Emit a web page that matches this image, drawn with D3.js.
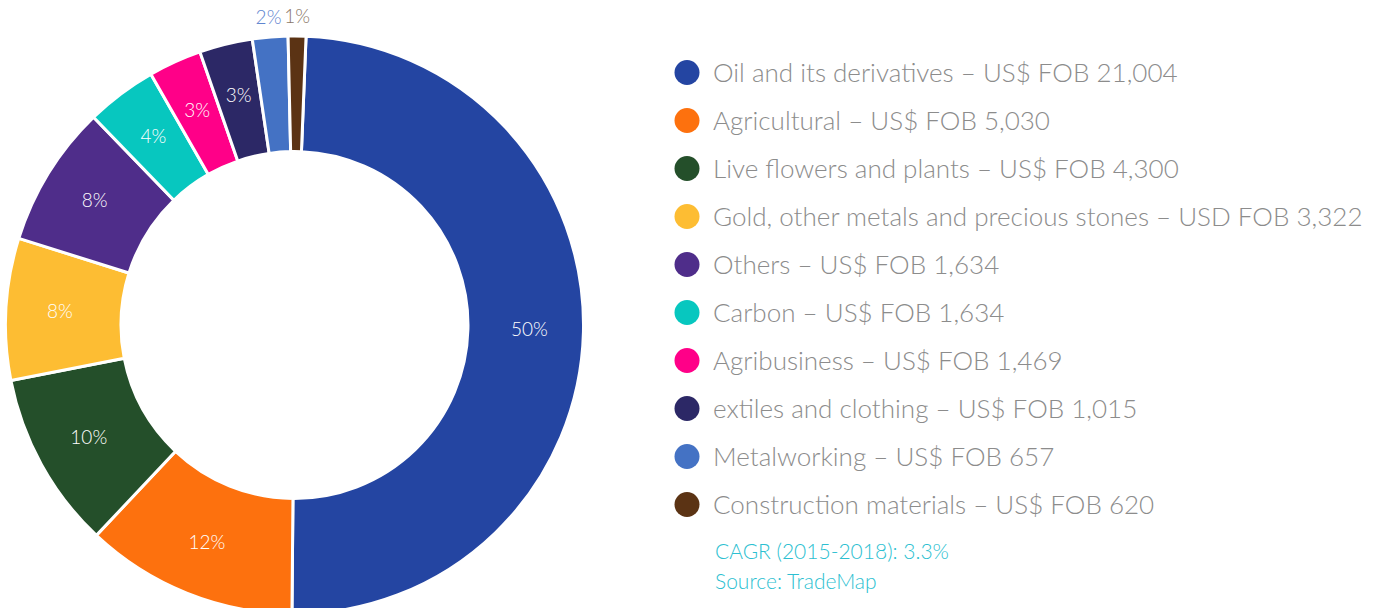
<!DOCTYPE html>
<html>
<head>
<meta charset="utf-8">
<script src="https://cdn.jsdelivr.net/npm/d3@7"></script>
<style>
  html, body { margin: 0; padding: 0; background: #ffffff; }
  svg { display: block; font-family: "Lato", "Open Sans", sans-serif; }
</style>
</head>
<body>
<svg id="chart" width="1383" height="608"></svg>
<script>
// Export categories, shares shown on the ring, and legend amounts
const categories = [
  "Oil and its derivatives",
  "Agricultural",
  "Live flowers and plants",
  "Gold, other metals and precious stones",
  "Others",
  "Carbon",
  "Agribusiness",
  "extiles and clothing",
  "Metalworking",
  "Construction materials"
];
const shares = [50, 12, 10, 8, 8, 4, 3, 3, 2, 1];
const fobValues = ["21,004", "5,030", "4,300", "3,322", "1,634", "1,634", "1,469", "1,015", "657", "620"];
const currencyLabels = ["US$", "US$", "US$", "USD", "US$", "US$", "US$", "US$", "US$", "US$"];
const colors = ["#2445a2", "#fd710e", "#244f2a", "#fdbd33", "#4f2d8a", "#07c7bf", "#ff0088", "#2c2866", "#4472c4", "#5b3314"];
const outsideLabelColors = { 8: "#5f85cf", 9: "#8a7767" };
const notes = ["CAGR (2015-2018): 3.3%", "Source: TradeMap"];

const svg = d3.select("#chart");
const cx = 294.5, cy = 325, outerR = 289, innerR = 173.5;
const startAngle = 0.04;

const data = categories.map((c, i) => ({ name: c, share: shares[i], color: colors[i], i }));

const pie = d3.pie().value(d => d.share).sort(null)
  .startAngle(startAngle).endAngle(startAngle + 2 * Math.PI);
const arc = d3.arc().innerRadius(innerR).outerRadius(outerR);
const labelArc = d3.arc().innerRadius(235).outerRadius(235);
const outerLabelArc = d3.arc().innerRadius(308).outerRadius(308);

const g = svg.append("g").attr("transform", `translate(${cx},${cy})`);
const arcs = pie(data);

g.selectAll("path.slice").data(arcs).enter().append("path")
  .attr("class", "slice")
  .attr("d", arc)
  .attr("fill", d => d.data.color)
  .attr("stroke", "#ffffff")
  .attr("stroke-width", 3);

// Percent labels: inside the ring, except the two thinnest slices which sit above it
g.selectAll("text.pct").data(arcs).enter().append("text")
  .attr("class", "pct")
  .attr("transform", d => {
    const p = (d.data.i >= 8 ? outerLabelArc : labelArc).centroid(d);
    return `translate(${p[0]},${p[1]})`;
  })
  .attr("text-anchor", "middle")
  .attr("dy", "0.3em")
  .attr("font-size", 19)
  .attr("font-weight", 300)
  .attr("fill", d => outsideLabelColors[d.data.i] || "#ffffff")
  .text(d => d.data.share + "%");

// Legend
const legendX = 687, legendY0 = 72.5, legendStep = 48;
const legend = svg.append("g");
const rows = legend.selectAll("g.row").data(data).enter().append("g")
  .attr("class", "row")
  .attr("transform", (d, i) => `translate(${legendX},${legendY0 + i * legendStep})`);
rows.append("circle").attr("r", 12.5).attr("fill", d => d.color);
const legendText = rows.append("text")
  .attr("x", 26)
  .attr("y", 9.5)
  .attr("font-size", 26)
  .attr("font-weight", 300)
  .attr("fill", "#8c8c8c")
  .text((d, i) => `${d.name} \u2013 ${currencyLabels[i]} FOB ${fobValues[i]}`);

// Fit legend type so the longest entry spans the legend column
const longest = legendText.filter((d, i) => i === 3).node();
const w = longest.getComputedTextLength();
const fs = 26 * 650 / w;
legendText.attr("font-size", fs);

svg.selectAll("text.note").data(notes).enter().append("text")
  .attr("class", "note")
  .attr("x", 715)
  .attr("y", (d, i) => 559 + i * 30)
  .attr("font-size", 21)
  .attr("font-weight", 300)
  .attr("fill", "#2dbfd1")
  .text(d => d);
</script>
</body>
</html>
